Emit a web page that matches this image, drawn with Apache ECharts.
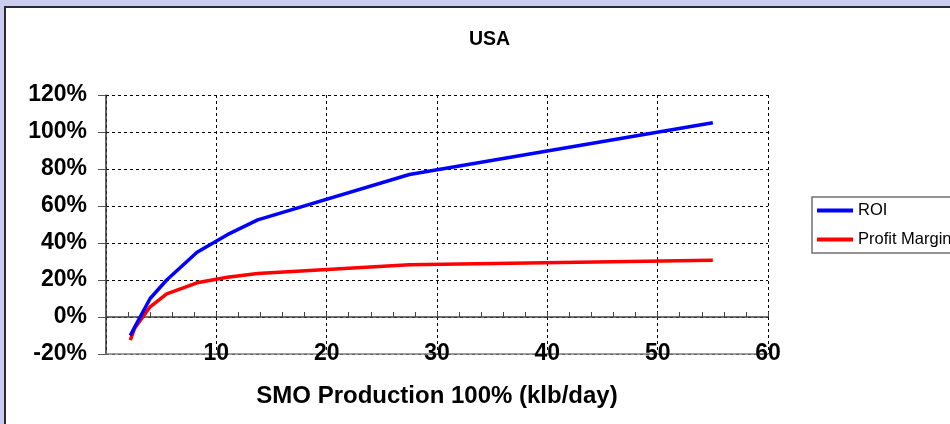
<!DOCTYPE html>
<html>
<head>
<meta charset="utf-8">
<script src="https://cdn.jsdelivr.net/npm/echarts@6/dist/echarts.min.js"></script>
<style>
  html, body { margin: 0; padding: 0; background: #CCCCEE; }
  #chart { width: 950px; height: 424px; }
</style>
</head>
<body>
<div id="chart"></div>
<script>
// Production rate (klb/day) and the two return measures, in percent
const production = [2.2, 2.6, 4.0, 5.5, 8.25, 11, 13.75, 27.5, 55];
const roi = [-10, -5.5, 10, 20, 35, 44.5, 52.5, 77, 105];
const profitMargin = [-12.5, -6, 5.5, 12.5, 18.5, 21.5, 23.5, 28.3, 30.7];
const seriesNames = ['ROI', 'Profit Margin'];
const yTicks = { min: -20, max: 120, step: 20 };
const xTicks = { min: 0, max: 60, step: 10, minorStep: 2 };

const FONT = "'Liberation Sans', Arial, sans-serif";
const pairs = (ys) => production.map((x, i) => [x, ys[i]]);

const chart = echarts.init(document.getElementById('chart'), null, { renderer: 'canvas' });

chart.setOption({
  backgroundColor: '#CCCCEE',
  animation: false,
  graphic: [{
    type: 'rect',
    z: -100,
    shape: { x: 5, y: 7, width: 960, height: 440 },
    style: { fill: '#FFFFFF', stroke: '#2a2a33', lineWidth: 2 }
  }],
  title: {
    text: 'USA',
    left: 464,
    top: 25,
    textStyle: { fontFamily: FONT, fontSize: 19.5, fontWeight: 'bold', color: '#000' }
  },
  legend: {
    data: seriesNames,
    orient: 'vertical',
    left: 812,
    top: 197,
    padding: [5, 20, 5, 5],
    itemGap: 12,
    itemWidth: 36,
    itemHeight: 4,
    icon: 'rect',
    borderColor: '#707070',
    borderWidth: 1.5,
    textStyle: { fontFamily: FONT, fontSize: 16.5, color: '#000' }
  },
  grid: { left: 106, right: 182, top: 95, bottom: 70, containLabel: false },
  xAxis: [{
    type: 'value',
    min: xTicks.min,
    max: xTicks.max,
    interval: xTicks.step,
    name: 'SMO Production 100% (klb/day)',
    nameLocation: 'middle',
    nameGap: 30,
    nameTextStyle: { fontFamily: FONT, fontSize: 24, fontWeight: 'bold', color: '#000' },
    axisLine: { onZero: false, lineStyle: { color: '#808080', width: 1.5 } },
    axisTick: { show: false },
    axisLabel: {
      fontFamily: FONT, fontSize: 23, fontWeight: 'bold', color: '#000',
      margin: 0, verticalAlign: 'middle', showMinLabel: false,
      formatter: (v) => (v === xTicks.min ? '' : String(v))
    },
    splitLine: { show: true, lineStyle: { color: '#000', width: 1, type: [3, 3] } }
  }, {
    // zero line with small ticks every 2 units
    type: 'value',
    min: xTicks.min,
    max: xTicks.max,
    interval: xTicks.minorStep,
    position: 'bottom',
    axisLine: { onZero: true, lineStyle: { color: '#444', width: 1.5 } },
    axisTick: { show: true, inside: true, length: 5, lineStyle: { color: '#444', width: 1 } },
    axisLabel: { show: false },
    splitLine: { show: false }
  }],
  yAxis: {
    type: 'value',
    min: yTicks.min,
    max: yTicks.max,
    interval: yTicks.step,
    axisLine: { show: true, onZero: false, lineStyle: { color: '#333', width: 1.5 } },
    axisTick: { show: true, length: 8, lineStyle: { color: '#555', width: 1 } },
    axisLabel: {
      fontFamily: FONT, fontSize: 23, fontWeight: 'bold', color: '#000',
      margin: 19, formatter: '{value}%'
    },
    splitLine: { show: true, lineStyle: { color: '#000', width: 1, type: [3, 3] } }
  },
  series: [{
    name: seriesNames[0],
    type: 'line',
    xAxisIndex: 0,
    data: pairs(roi),
    showSymbol: false,
    symbol: 'none',
    lineStyle: { color: '#0000FF', width: 3.5 },
    itemStyle: { color: '#0000FF' },
    z: 5
  }, {
    name: seriesNames[1],
    type: 'line',
    xAxisIndex: 0,
    data: pairs(profitMargin),
    showSymbol: false,
    symbol: 'none',
    lineStyle: { color: '#FF0000', width: 3.5 },
    itemStyle: { color: '#FF0000' },
    z: 4
  }]
});
</script>
</body>
</html>
